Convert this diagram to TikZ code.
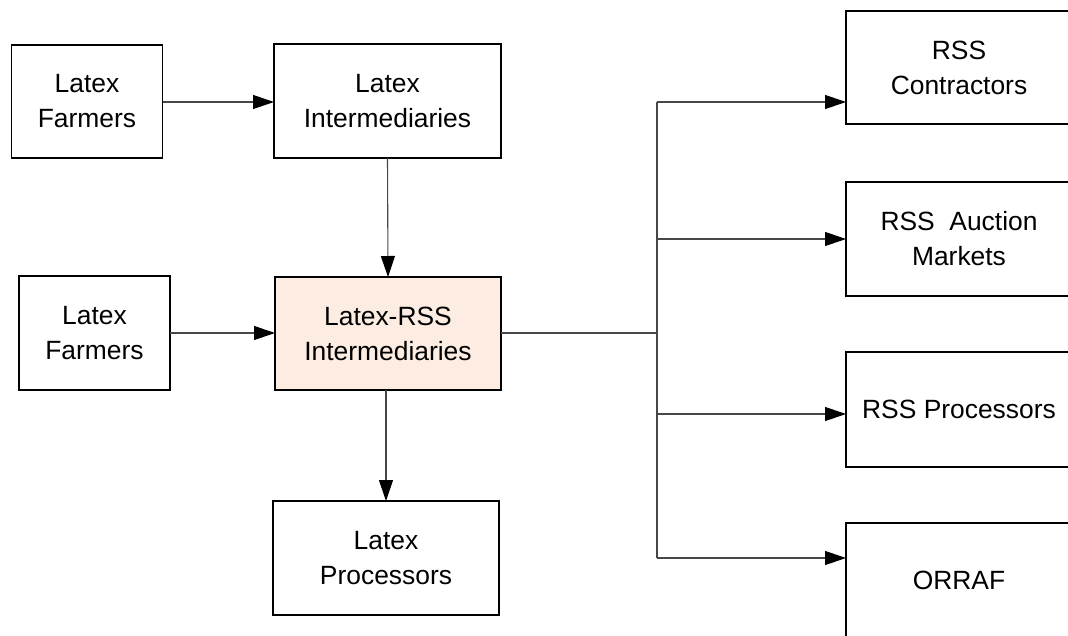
\documentclass[tikz,border=0pt]{standalone}
\usepackage{fontspec}
\setmainfont{Liberation Sans}
\usetikzlibrary{arrows.meta}
\definecolor{peach}{RGB}{252,236,225}
\tikzset{
  box/.style={draw=black, line width=1.8pt, rectangle, inner sep=0pt, outer sep=0pt,
    align=center, font=\fontsize{26.4}{35}\selectfont},
  link/.style={draw=black!72, line width=1.1pt},
  flow/.style={link, -{Triangle[length=21pt,width=14pt,color=black]}}
}
\begin{document}
\begin{tikzpicture}[x=1pt,y=-1pt]
\clip (0,0) rectangle (1068,635);
\fill[white] (0,0) rectangle (1068,635);

% left column and centre column
\node[box, minimum width=151pt, minimum height=113pt] (farm1) at (87,101.5) {Latex\\Farmers};
\node[box, minimum width=227pt, minimum height=114pt] (inter) at (387.5,101) {Latex\\Intermediaries};
\node[box, minimum width=151pt, minimum height=114pt] (farm2) at (94.5,333) {Latex\\Farmers};
\node[box, fill=peach, minimum width=226pt, minimum height=113pt] (hub) at (388,333.5) {Latex-RSS\\Intermediaries};
\node[box, minimum width=226pt, minimum height=114pt] (proc) at (386,558) {Latex\\Processors};

% right column (runs past the page edge)
\node[box, minimum width=226pt, minimum height=113pt] (contr) at (959,67.5) {RSS\\Contractors};
\node[box, minimum width=226pt, minimum height=114pt] (auct) at (959,239) {RSS\ \ Auction\\Markets};
\node[box, minimum width=226pt, minimum height=115pt] (rproc) at (959,409.5) {RSS Processors};
\node[box, minimum width=226pt, minimum height=114pt] (orraf) at (959,580) {ORRAF};

% left-hand connectors
\draw[flow] (farm1.east |- 0,102) -- (inter.west |- 0,102);
\draw[flow] (farm2.east) -- (farm2.east -| hub.west);
\draw[flow] (inter.south) -- (hub.north);
\draw[flow] (hub.south -| proc.north) -- (proc.north);

% distribution trunk on the right
\coordinate (t1) at (657,102);
\coordinate (t2) at (657,239);
\coordinate (t3) at (657,414);
\coordinate (t4) at (657,558);
\draw[link] (hub.east |- 0,333) -- (t2 |- 0,333);
\draw[link] (t1) -- (t4);
\draw[flow] (t1) -- (t1 -| contr.west);
\draw[flow] (t2) -- (t2 -| auct.west);
\draw[flow] (t3) -- (t3 -| rproc.west);
\draw[flow] (t4) -- (t4 -| orraf.west);
\end{tikzpicture}
\end{document}
